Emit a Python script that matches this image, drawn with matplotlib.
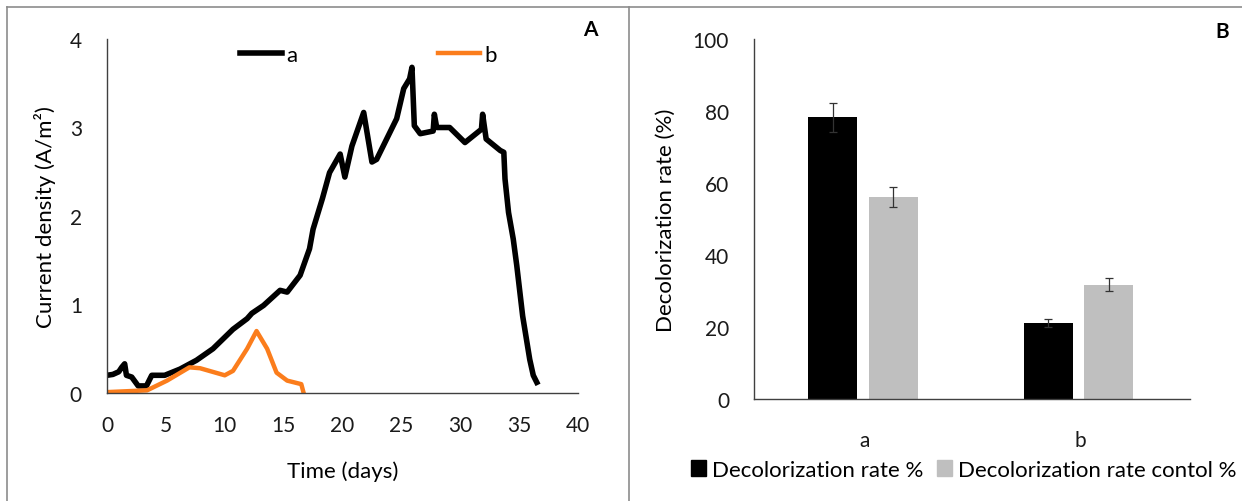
import numpy as np
import matplotlib.pyplot as plt
from matplotlib.lines import Line2D
from matplotlib.patches import Patch

plt.rcParams['font.family'] = ['Lato', 'DejaVu Sans']

# === datos panel A: densidad de corriente ===
a_days = [0, 0.5, 1.0, 1.25, 1.5, 1.65, 2.1, 2.65, 3.35, 3.8, 4.9, 6.2, 7.6, 9.0,
          10.7, 11.9, 12.3, 13.3, 14.7, 15.3, 16.4, 17.2, 17.5, 18.3, 18.9, 19.8,
          20.2, 20.8, 21.8, 22.5, 22.9, 24.6, 25.2, 25.7, 25.9, 26.1, 26.6, 27.7,
          27.8, 28.0, 29.1, 30.4, 31.8, 31.9, 32.2, 33.4, 33.7, 33.8, 34.1, 34.5,
          34.8, 35.3, 35.9, 36.2, 36.5]
a_vals = [0.2, 0.21, 0.24, 0.29, 0.33, 0.2, 0.18, 0.08, 0.08, 0.2, 0.2, 0.27, 0.37, 0.5,
          0.72, 0.84, 0.9, 0.99, 1.16, 1.14, 1.33, 1.63, 1.85, 2.2, 2.49, 2.70,
          2.44, 2.79, 3.17, 2.61, 2.64, 3.10, 3.44, 3.55, 3.68, 3.02, 2.93, 2.96,
          3.15, 3.0, 3.0, 2.83, 2.98, 3.15, 2.87, 2.74, 2.72, 2.42, 2.04, 1.74,
          1.44, 0.87, 0.38, 0.2, 0.12]

b_days = [0, 3.4, 5.1, 7.0, 7.9, 10.0, 10.7, 11.9, 12.7, 13.6, 14.4, 15.3, 16.5, 16.7]
b_vals = [0.01, 0.03, 0.14, 0.29, 0.28, 0.2, 0.25, 0.5, 0.70, 0.5, 0.23, 0.14, 0.10, 0.0]

# === datos panel B: decoloración ===
categorias = ['a', 'b']
decol = [78.2, 21.0]
decol_err = [4.0, 1.1]
decol_ctrl = [56.0, 31.8]
decol_ctrl_err = [2.8, 1.8]

negro = '#000000'
naranja = '#fb7d1c'
gris = '#bfbfbf'
eje = '#404040'

fig = plt.figure(figsize=(12.42, 5.02), dpi=100)

# marco de la figura
fig.add_artist(Line2D([7/1242, 1], [1 - 8/502, 1 - 8/502], color='#8c8c8c', lw=1.2))
fig.add_artist(Line2D([7/1242, 7/1242], [0, 1 - 8/502], color='#8c8c8c', lw=1.2))
fig.add_artist(Line2D([629/1242, 629/1242], [0, 1 - 8/502], color='#8c8c8c', lw=1.2))

# ---------- Panel A ----------
ax1 = fig.add_axes([107/1242, 108/502, 471/1242, 354/502])
ax1.plot(a_days, a_vals, color=negro, lw=4.0, solid_joinstyle='round', label='a')
ax1.plot(b_days, b_vals, color=naranja, lw=3.2, solid_joinstyle='round', label='b')
ax1.set_xlim(0, 40)
ax1.set_ylim(0, 4)
ax1.set_xticks(np.arange(0, 41, 5))
ax1.set_yticks(np.arange(0, 5, 1))
ax1.set_xlabel('Time (days)', fontsize=16, labelpad=18)
ax1.set_ylabel('Current density (A/m²)', fontsize=16, labelpad=10)
for s in ['top', 'right']:
    ax1.spines[s].set_visible(False)
for s in ['left', 'bottom']:
    ax1.spines[s].set_color(eje)
    ax1.spines[s].set_linewidth(1.0)
ax1.tick_params(length=0, labelsize=15, colors='#1a1a1a')
ax1.tick_params(axis='x', pad=16)
ax1.tick_params(axis='y', pad=18)
ax1.legend(loc='upper left', bbox_to_anchor=(0.24, 1.04), ncol=2, frameon=False,
           fontsize=16, handlelength=1.9, handletextpad=0.2, columnspacing=6.3)
fig.text(590/1242, 1 - 30/502, 'A', fontsize=15, fontweight='bold', ha='center', va='center')

# ---------- Panel B ----------
ax2 = fig.add_axes([754/1242, 102/502, 436/1242, 360/502])
x = np.arange(len(categorias))
ancho = 0.228
ax2.bar(x - 0.148, decol, ancho, color=negro, label='Decolorization rate %',
        yerr=decol_err, error_kw=dict(ecolor='#333333', elinewidth=0.9, capsize=3, capthick=0.9))
ax2.bar(x + 0.132, decol_ctrl, ancho, color=gris, label='Decolorization rate contol %',
        yerr=decol_ctrl_err, error_kw=dict(ecolor='#333333', elinewidth=0.9, capsize=3, capthick=0.9))
ax2.set_xlim(-0.514, 1.51)
ax2.set_ylim(0, 100)
ax2.set_xticks(x)
ax2.set_xticklabels(categorias)
ax2.set_yticks(np.arange(0, 101, 20))
ax2.set_ylabel('Decolorization rate (%)', fontsize=16, labelpad=12)
for s in ['top', 'right']:
    ax2.spines[s].set_visible(False)
for s in ['left', 'bottom']:
    ax2.spines[s].set_color(eje)
    ax2.spines[s].set_linewidth(1.0)
ax2.tick_params(length=0, labelsize=15, colors='#1a1a1a')
ax2.tick_params(axis='x', pad=22)
ax2.tick_params(axis='y', pad=18)
fig.legend(handles=[Patch(color=negro), Patch(color=gris)],
           labels=['Decolorization rate %', 'Decolorization rate contol %'],
           loc='center left', bbox_to_anchor=(682/1242, 1 - 471/502), ncol=2, frameon=False,
           fontsize=16, handlelength=0.7, handleheight=0.7, handletextpad=0.25,
           columnspacing=0.6, borderaxespad=0)
fig.text(1222/1242, 1 - 32/502, 'B', fontsize=15, fontweight='bold', ha='center', va='center')

plt.savefig('out.png', dpi=100)
